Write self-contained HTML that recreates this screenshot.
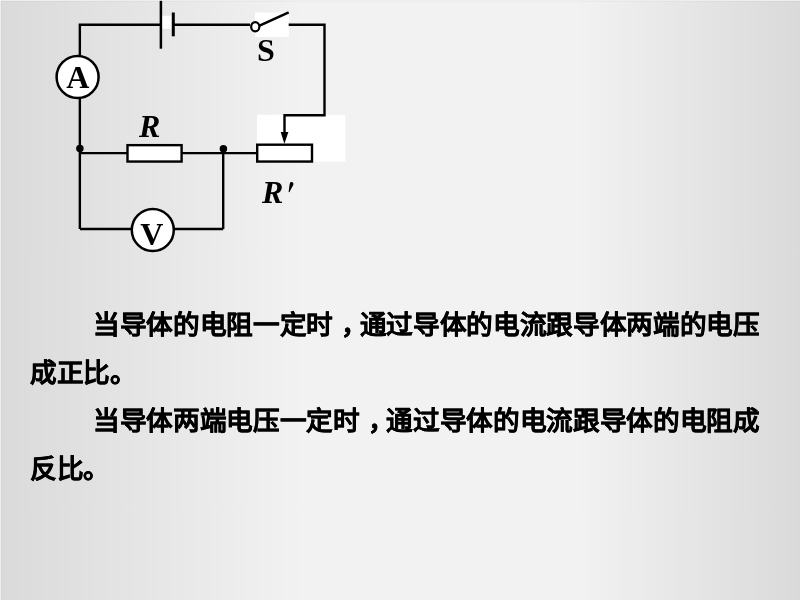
<!DOCTYPE html>
<html lang="zh-CN">
<head>
<meta charset="utf-8">
<style>
html,body{margin:0;padding:0;}
body{width:800px;height:600px;overflow:hidden;position:relative;
background:linear-gradient(to right,#dadada 0%,#f2f2f2 38%,#f2f2f2 72%,#dadada 100%);
font-family:"Liberation Sans",sans-serif;}
#edge2{position:absolute;left:1px;top:1px;width:799px;height:599px;box-sizing:border-box;border-top:1px solid rgba(0,0,0,0.025);border-left:1px solid rgba(0,0,0,0.025);}
#edge{position:absolute;left:0;top:0;width:800px;height:600px;box-sizing:border-box;border-top:1px solid #eeeeee;border-left:1px solid #eeeeee;}
svg{position:absolute;left:0;top:0;will-change:transform;}
.t{position:absolute;left:30px;font-weight:bold;font-size:26.67px;line-height:48px;letter-spacing:-0.33px;color:#000;white-space:nowrap;-webkit-text-stroke:0.3px #000;will-change:transform;}
.lbl{font-family:"Liberation Serif",serif;font-weight:bold;}
</style>
</head>
<body>
<div id="edge"></div><div id="edge2"></div>
<svg width="800" height="600" viewBox="0 0 800 600">
  <!-- white patches -->
  <rect x="162" y="15.8" width="9.5" height="13" fill="#fff"/>
  <rect x="255" y="12.5" width="33.75" height="24.4" fill="#fff"/>
  <rect x="257" y="114.8" width="88.3" height="46.8" fill="#fff"/>
  <g stroke="#000" stroke-width="2.4" fill="none">
    <!-- top wire -->
    <polyline points="79.85,229 79.85,24.7 160.9,24.7"/>
    <line x1="173.3" y1="24.7" x2="250" y2="24.7"/>
    <polyline points="288.7,24.7 324.5,24.7 324.5,115.2 284.5,115.2 284.5,133"/>
    <!-- battery -->
    <line x1="160.9" y1="0.8" x2="160.9" y2="48.7" stroke-width="2.5"/>
    <line x1="173.3" y1="12.5" x2="173.3" y2="36.3" stroke-width="3"/>
    <!-- switch -->
    <line x1="259.6" y1="25.6" x2="288.7" y2="12.4" stroke-width="2.6"/>
    <!-- middle wire -->
    <line x1="80" y1="153.1" x2="256" y2="153.1" stroke-width="2.3"/>
    <line x1="223.2" y1="153" x2="223.2" y2="229"/>
    <polyline points="80,229 223.2,229"/>
  </g>
  <ellipse cx="255.25" cy="26.8" rx="4.1" ry="4.65" fill="#fff" stroke="#000" stroke-width="2.2"/>
  <!-- arrow head -->
  <polygon points="280.7,131.9 288.4,131.9 284.4,143.8" fill="#000"/>
  <!-- resistors -->
  <rect x="127.5" y="145.15" width="54.1" height="16.4" fill="#fff" stroke="#000" stroke-width="2.4"/>
  <rect x="257.2" y="144.7" width="54.8" height="16.85" fill="#fff" stroke="#000" stroke-width="2.4"/>
  <!-- junction dots -->
  <circle cx="79.9" cy="148.6" r="3.75" fill="#000"/>
  <circle cx="223.4" cy="148.8" r="3.75" fill="#000"/>
  <!-- meters -->
  <circle cx="77.6" cy="77" r="21" fill="#fff" stroke="#000" stroke-width="2.5"/>
  <circle cx="152.8" cy="230" r="21" fill="#fff" stroke="#000" stroke-width="2.5"/>
  <g font-family="Liberation Serif" font-weight="bold" font-size="32" fill="#000">
    <text x="77.7" y="88.2" text-anchor="middle">A</text>
    <text x="151.8" y="245" text-anchor="middle">V</text>
    <text x="266" y="61" text-anchor="middle">S</text>
    <text x="139" y="137.3" font-style="italic">R</text>
    <text x="262" y="203" font-style="italic">R</text>
  </g>
  <path d="M290.2,182.6 C291.6,181.6 293.6,182.2 293.4,184.2 C293.2,185.4 292.4,186.4 289.4,192.3 L288.6,192 C289.3,188.5 289.3,184.2 290.2,182.6 Z" fill="#000"/>
</svg>
<div class="t" style="top:301.1px;left:92.8px">当导体的电阻一定时<span style="position:relative;left:7.8px">，</span>通过导体的电流跟导体两端的电压</div>
<div class="t" style="top:349.1px">成正比。</div>
<div class="t" style="top:397.1px;left:92.8px">当导体两端电压一定时<span style="position:relative;left:7.8px">，</span>通过导体的电流跟导体的电阻成</div>
<div class="t" style="top:445.1px">反比。</div>
</body>
</html>
